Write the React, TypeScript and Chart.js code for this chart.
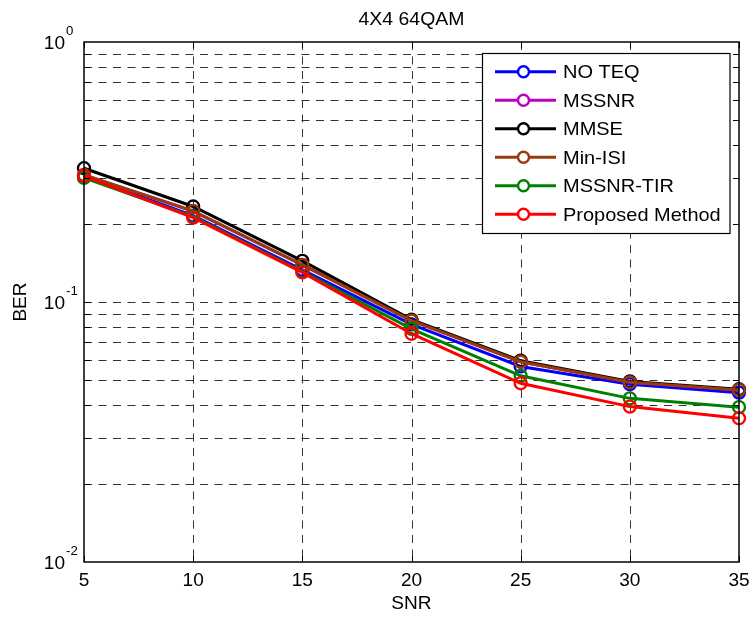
import React, { useEffect, useRef } from "react";
import { Chart, registerables } from "chart.js";

Chart.register(...registerables);

// ---- data ----
const snr = [5, 10, 15, 20, 25, 30, 35];
const noTeq = [0.305, 0.215, 0.133, 0.082, 0.0565, 0.0483, 0.0448];
const mssnr = [0.308, 0.223, 0.139, 0.0848, 0.0589, 0.0491, 0.0459];
const mmse = [0.327, 0.233, 0.144, 0.0855, 0.0595, 0.0495, 0.0462];
const minIsi = [0.308, 0.224, 0.139, 0.0848, 0.0589, 0.0491, 0.0459];
const mssnrTir = [0.3, 0.213, 0.131, 0.0788, 0.052, 0.0426, 0.0394];
const proposed = [0.305, 0.211, 0.13, 0.0755, 0.0487, 0.0396, 0.0357];

const seriesNames = ["NO TEQ", "MSSNR", "MMSE", "Min-ISI", "MSSNR-TIR", "Proposed Method"];
const seriesColors = ["#0000ff", "#c000c0", "#000000", "#9a3a0c", "#008000", "#ff0000"];
const seriesValues = [noTeq, mssnr, mmse, minIsi, mssnrTir, proposed];

const xTicks = [5, 10, 15, 20, 25, 30, 35];
const yDecades = [1, 0.1, 0.01];
const yExponents = ["0", "-1", "-2"];
const chartTitle = "4X4 64QAM";
const xTitle = "SNR";
const yTitle = "BER";

const FONT = '"Liberation Sans", Arial, sans-serif';

function txt(
  ctx: CanvasRenderingContext2D,
  s: string,
  x: number,
  y: number,
  size: number,
  align: CanvasTextAlign,
  hs = 1.06
) {
  ctx.save();
  ctx.translate(x, y);
  ctx.scale(hs, 1);
  ctx.font = `${size}px ${FONT}`;
  ctx.textAlign = align;
  ctx.textBaseline = "alphabetic";
  ctx.fillStyle = "#000";
  ctx.fillText(s, 0, 0);
  ctx.restore();
}

function yGridValues(): number[] {
  const out: number[] = [];
  for (const base of [0.01, 0.1]) {
    for (let m = 1; m <= 9; m++) out.push(base * m);
  }
  return out.filter((v) => v > 0.0100001);
}

const matlabPlugin = {
  id: "matlabLook",
  beforeDraw(chart: any) {
    const ctx = chart.ctx as CanvasRenderingContext2D;
    ctx.save();
    ctx.fillStyle = "#fff";
    ctx.fillRect(0, 0, chart.width, chart.height);
    ctx.restore();
  },
  beforeDatasetsDraw(chart: any) {
    const ctx = chart.ctx as CanvasRenderingContext2D;
    const { left, right, top, bottom } = chart.chartArea;
    const xs = chart.scales.x;
    const ys = chart.scales.y;
    ctx.save();
    ctx.strokeStyle = "#333";
    ctx.lineWidth = 1;
    ctx.setLineDash([8, 6.5]);
    for (const v of yGridValues()) {
      const y = Math.round(ys.getPixelForValue(v)) + 0.5;
      ctx.beginPath();
      ctx.moveTo(left, y);
      ctx.lineTo(right, y);
      ctx.stroke();
    }
    for (const v of xTicks) {
      if (v === xTicks[0] || v === xTicks[xTicks.length - 1]) continue;
      const x = Math.round(xs.getPixelForValue(v)) + 0.5;
      ctx.beginPath();
      ctx.moveTo(x, top);
      ctx.lineTo(x, bottom);
      ctx.stroke();
    }
    ctx.restore();
  },
  afterDatasetsDraw(chart: any) {
    const ctx = chart.ctx as CanvasRenderingContext2D;
    const { left, right, top, bottom } = chart.chartArea;
    const xs = chart.scales.x;
    const ys = chart.scales.y;
    ctx.save();
    // box
    ctx.strokeStyle = "#000";
    ctx.lineWidth = 1.5;
    ctx.setLineDash([]);
    ctx.strokeRect(left, top, right - left, bottom - top);
    // ticks
    ctx.lineWidth = 1;
    const tl = 6;
    for (const v of xTicks) {
      const x = Math.round(xs.getPixelForValue(v)) + 0.5;
      ctx.beginPath();
      ctx.moveTo(x, bottom);
      ctx.lineTo(x, bottom - tl);
      ctx.moveTo(x, top);
      ctx.lineTo(x, top + tl);
      ctx.stroke();
    }
    for (const v of yGridValues()) {
      const y = Math.round(ys.getPixelForValue(v)) + 0.5;
      ctx.beginPath();
      ctx.moveTo(left, y);
      ctx.lineTo(left + tl, y);
      ctx.moveTo(right, y);
      ctx.lineTo(right - tl, y);
      ctx.stroke();
    }
    // x tick labels
    for (const v of xTicks) {
      txt(ctx, String(v), xs.getPixelForValue(v), bottom + 24, 18, "center");
    }
    // y tick labels with superscripts
    yDecades.forEach((v, i) => {
      const y = ys.getPixelForValue(v);
      txt(ctx, "10", left - 19, y + 6.5, 18, "right");
      txt(ctx, yExponents[i], left - 18, y - 7, 12.5, "left");
    });
    // axis titles
    txt(ctx, xTitle, (left + right) / 2, bottom + 47, 18, "center");
    ctx.save();
    ctx.translate(26, (top + bottom) / 2);
    ctx.rotate(-Math.PI / 2);
    txt(ctx, yTitle, 0, 0, 18, "center");
    ctx.restore();
    // title
    txt(ctx, chartTitle, (left + right) / 2, 25, 18, "center", 1.08);

    // legend
    const lx = 482.5;
    const ly = 53.5;
    const lw = 247.5;
    const lh = 180;
    ctx.fillStyle = "#fff";
    ctx.fillRect(lx, ly, lw, lh);
    ctx.strokeStyle = "#000";
    ctx.lineWidth = 1.2;
    ctx.strokeRect(lx, ly, lw, lh);
    seriesNames.forEach((name, i) => {
      const cy = 71.7 + i * 28.5;
      ctx.strokeStyle = seriesColors[i];
      ctx.lineWidth = 3;
      ctx.beginPath();
      ctx.moveTo(495, cy);
      ctx.lineTo(556, cy);
      ctx.stroke();
      ctx.beginPath();
      ctx.arc(523.5, cy, 5.5, 0, Math.PI * 2);
      ctx.fillStyle = "#fff";
      ctx.fill();
      ctx.lineWidth = 2.4;
      ctx.stroke();
      txt(ctx, name, 563, cy + 6.5, 18.5, "left", 1.08);
    });
    ctx.restore();
  },
};

export default function App() {
  const ref = useRef<HTMLCanvasElement | null>(null);

  useEffect(() => {
    if (!ref.current) return;
    const datasets = seriesNames.map((name, i) => ({
      label: name,
      data: snr.map((x, j) => ({ x, y: seriesValues[i][j] })),
      borderColor: seriesColors[i],
      backgroundColor: seriesColors[i],
      borderWidth: 3,
      pointRadius: 6,
      pointBorderWidth: 2.3,
      pointBorderColor: seriesColors[i],
      pointBackgroundColor: "rgba(0,0,0,0)",
      pointStyle: "circle" as const,
      tension: 0,
      fill: false,
      clip: false as any,
      order: seriesNames.length - i,
    }));
    const chart = new Chart(ref.current, {
      type: "line",
      data: { datasets },
      options: {
        animation: false,
        responsive: false,
        devicePixelRatio: 1,
        layout: { padding: { left: 84, top: 42, right: 14, bottom: 56 } },
        scales: {
          x: { type: "linear", min: 5, max: 35, display: false },
          y: { type: "logarithmic", min: 0.01, max: 1, display: false },
        },
        plugins: {
          legend: { display: false },
          tooltip: { enabled: false },
          title: { display: false },
        },
        events: [],
      },
      plugins: [matlabPlugin],
    });
    return () => chart.destroy();
  }, []);

  return (
    <div style={{ position: "absolute", left: 0, top: 0, width: 753, height: 618, background: "#fff" }}>
      <canvas ref={ref} width={753} height={618} style={{ display: "block" }} />
    </div>
  );
}
